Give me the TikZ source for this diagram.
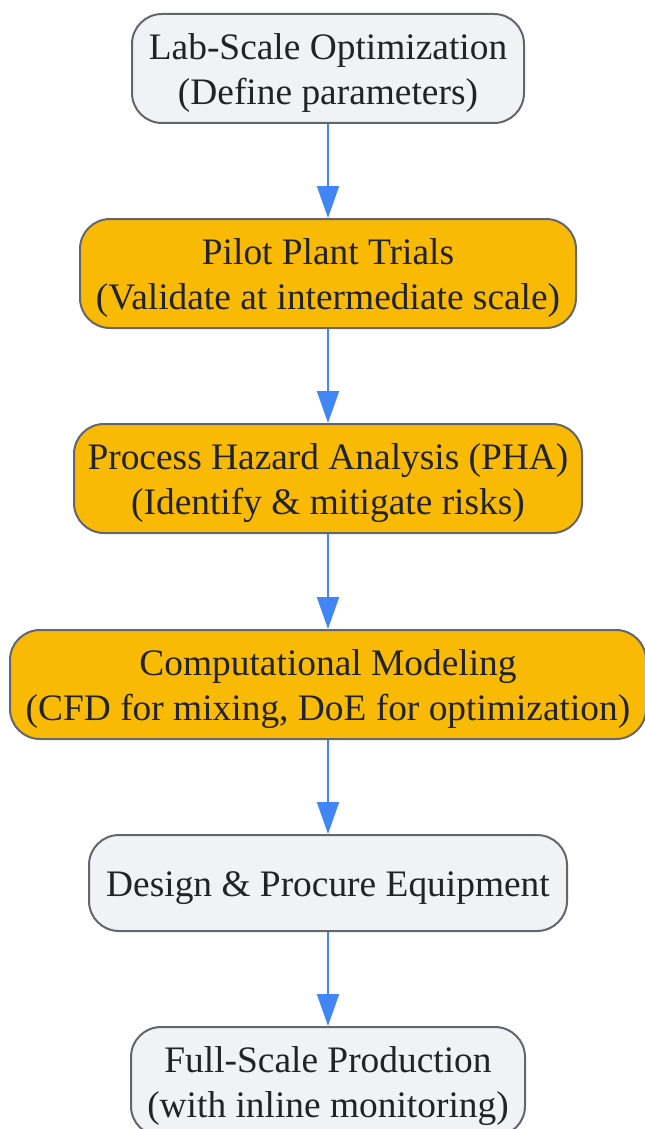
\documentclass[tikz,border=0pt]{standalone}
\usepackage{fontspec}
\setmainfont{Liberation Serif}
\usetikzlibrary{arrows.meta}
\definecolor{grayfill}{HTML}{F1F2F4}
\definecolor{boxborder}{HTML}{63666B}
\definecolor{orangefill}{HTML}{F9BA06}
\definecolor{arrowblue}{HTML}{4285F4}
\definecolor{textdark}{HTML}{222326}
\newcommand\firststrut{\rule{0pt}{17.3pt}}
\tikzset{
  box/.style={draw=boxborder, line width=1pt, rounded corners=15pt, align=center,
    inner sep=0pt, minimum height=54.5pt, text=textdark,
    font=\fontsize{18.7pt}{22.6pt}\selectfont},
  graybox/.style={box, fill=grayfill},
  orangebox/.style={box, fill=orangefill},
  arr/.style={draw=arrowblue, line width=1pt, -{Triangle[length=16pt,width=11pt]}, arrowblue}
}
\begin{document}
\begin{tikzpicture}[x=1pt,y=1pt]
\useasboundingbox (0,0) rectangle (322,-564.5);
\node[graybox, minimum width=196pt] (n1) at (164,-34.25) {\firststrut Lab-Scale Optimization\\(Define parameters)};
\node[orangebox, minimum width=248pt] (n2) at (164,-136.75) {\firststrut Pilot Plant Trials\\(Validate at intermediate scale)};
\node[orangebox, minimum width=254pt] (n3) at (164,-239.25) {\firststrut Process Hazard Analysis (PHA)\\(Identify \& mitigate risks)};
\node[orangebox, minimum width=318pt] (n4) at (164,-342.25) {\firststrut Computational Modeling\\(CFD for mixing, DoE for optimization)};
\node[graybox, minimum width=239pt, minimum height=48pt] (n5) at (164,-441.5) {\firststrut Design \& Procure Equipment};
\node[graybox, minimum width=197pt] (n6) at (164,-540.75) {\firststrut Full-Scale Production\\(with inline monitoring)};
\draw[arr] (n1) -- (n2);
\draw[arr] (n2) -- (n3);
\draw[arr] (n3) -- (n4);
\draw[arr] (n4) -- (n5);
\draw[arr] (n5) -- (n6);
\end{tikzpicture}
\end{document}
